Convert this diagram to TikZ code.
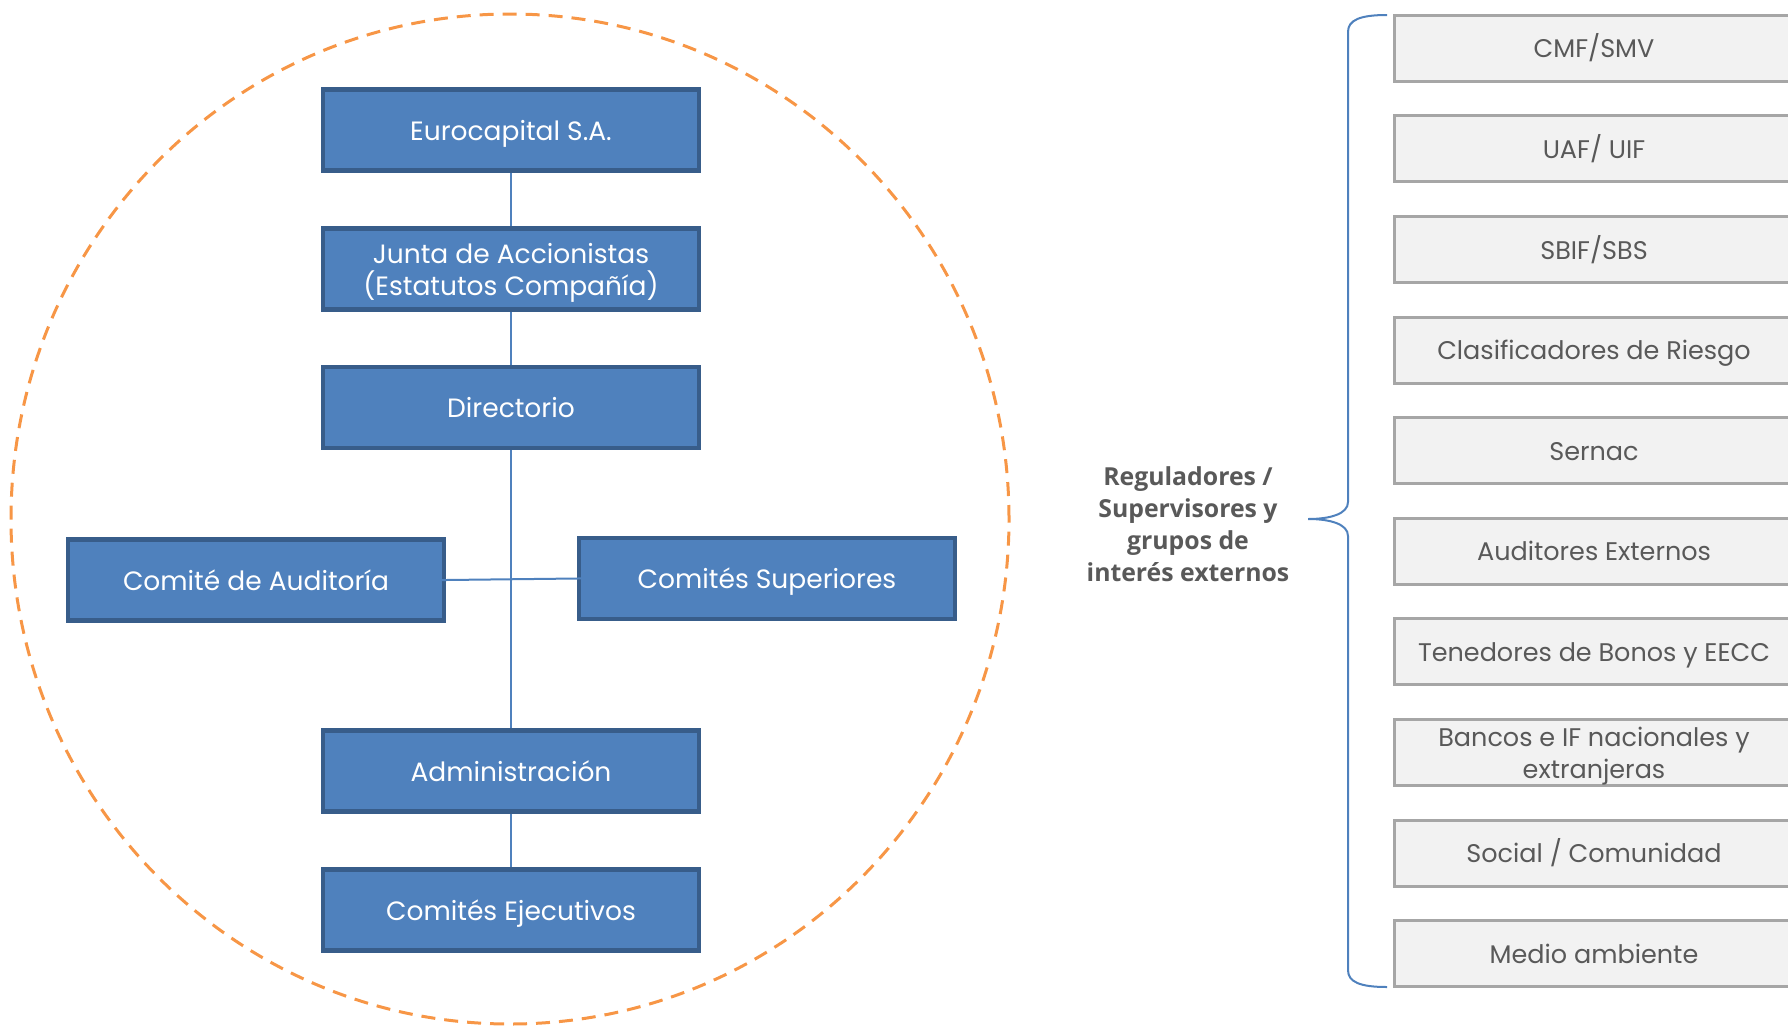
\documentclass[tikz,border=0pt]{standalone}
\usepackage{fontspec}
\setmainfont{Poppins}
\newfontfamily\labelfont{Open Sans}
\definecolor{boxfill}{HTML}{4F81BD}
\definecolor{boxline}{HTML}{385D8A}
\definecolor{orangeline}{HTML}{F79646}
\definecolor{grayfill}{HTML}{F2F2F2}
\definecolor{grayline}{HTML}{A6A6A6}
\definecolor{graytext}{HTML}{595959}
\begin{document}
\begin{tikzpicture}[x=1pt,y=-1pt,
  bluebase/.style={draw=boxline, fill=boxfill, line width=4.5pt, minimum width=376pt, minimum height=81pt, inner sep=0pt, text=white, align=center, font=\fontsize{26.5}{32}\selectfont},
  bluebox/.style={bluebase, text height=20pt, text depth=0pt},
  graybase/.style={draw=grayline, fill=grayfill, line width=3pt, minimum width=399pt, minimum height=66pt, inner sep=0pt, text=graytext, align=center, font=\fontsize{25.5}{32}\selectfont},
  graybox/.style={graybase, text height=19pt, text depth=0pt},
  conn/.style={draw=boxfill, line width=2pt},
  ring/.style={draw=orangeline, line width=3pt, dash pattern=on 14pt off 9pt},
  brace/.style={draw=boxfill, line width=2pt},
]
\clip (0,0) rectangle (1788,1026);
\useasboundingbox (0,0) rectangle (1788,1026);

% dashed circle
\draw[ring] (510,519) ellipse [x radius=499pt, y radius=505pt];

% blue boxes
\node[bluebox] (euro) at (511,130) {Eurocapital S.A.};
\node[bluebase] (junta) at (511,269) {\rule{0pt}{28.6pt}Junta de Accionistas\\(Estatutos Compañía)};
\node[bluebox] (dir) at (511,407.5) {Directorio};
\node[bluebox] (aud) at (256,580) {Comité de Auditoría};
\node[bluebox] (sup) at (767,578.5) {Comités Superiores};
\node[bluebox] (adm) at (511,771) {Administración};
\node[bluebox] (eje) at (511,910) {Comités Ejecutivos};

% connectors
\draw[conn] (euro) -- (junta);
\draw[conn] (junta) -- (dir);
\draw[conn] (dir) -- (adm);
\draw[conn] (adm) -- (eje);
\draw[conn, shorten <=-24pt, shorten >=-24pt] (aud.east) -- (sup.west);

% gray boxes
\node[graybox] (g1) at (1594,48.3) {CMF/SMV};
\node[graybox] (g2) at (1594,148.9) {UAF/ UIF};
\node[graybox] (g3) at (1594,249.5) {SBIF/SBS};
\node[graybox] (g4) at (1594,350.1) {Clasificadores de Riesgo};
\node[graybox] (g5) at (1594,450.7) {Sernac};
\node[graybox] (g6) at (1594,551.3) {Auditores Externos};
\node[graybox] (g7) at (1594,651.9) {Tenedores de Bonos y EECC};
\node[graybase] (g8) at (1594,752.5) {\rule{0pt}{27pt}Bancos e IF nacionales y\\extranjeras};
\node[graybox] (g9) at (1594,853.1) {Social / Comunidad};
\node[graybox] (g10) at (1594,953.7) {Medio ambiente};

% brace
\coordinate (btop) at (1387,15);
\coordinate (bbot) at (1387,987);
\coordinate (btip) at (1308,519);
\draw[brace] (btop) .. controls (1360,15) and (1348,20) .. (1348,32)
  -- (1348,502) .. controls (1348,514) and (1330,519) .. (btip)
  .. controls (1330,519) and (1348,524) .. (1348,536)
  -- (1348,970) .. controls (1348,982) and (1360,987) .. (bbot);

% label
\node[text=graytext, align=center, font=\labelfont\bfseries\fontsize{24.8}{32}\selectfont] (lbl) at (1188,524.5)
  {Reguladores /\\Supervisores y\\grupos de\\interés externos};
\end{tikzpicture}
\end{document}
